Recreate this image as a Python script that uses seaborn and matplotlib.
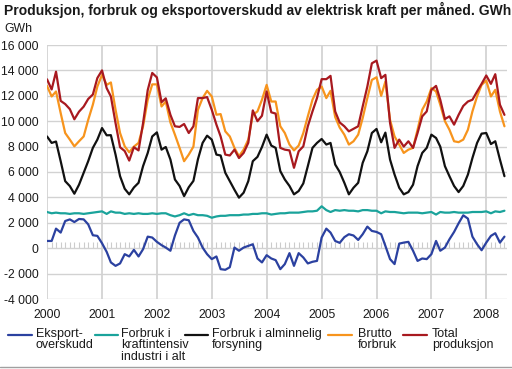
import numpy as np
import pandas as pd
import matplotlib
matplotlib.use("Agg")
import matplotlib.pyplot as plt
import matplotlib.dates as mdates
from matplotlib.lines import Line2D
import seaborn as sns

# ---------------- data (GWh per month, Jan 2000 - May 2008) ----------------
months = pd.date_range("2000-01-01", periods=101, freq="MS")

total_produksjon = [
    13300, 12500, 13900, 11600, 11350, 10950, 10150, 10750, 11150, 11750, 12100, 13400,
    14000, 12600, 11950, 9850, 7950, 7650, 6900, 7950, 7700, 9850, 12450, 13800,
    13450, 11500, 11800, 10500, 9600, 9550, 9780, 9070, 9600, 11820, 11820, 11900,
    10900, 9730, 8800, 7370, 7300, 7760, 7100, 7500, 8300, 10850, 10000, 10430,
    12340, 10700, 10600, 7900, 7760, 7700, 6330, 7630, 8020, 9600, 10770, 11820,
    13310, 13310, 13570, 10770, 9900, 9600, 9200, 9400, 9600, 11160, 12730, 14560,
    14770, 13390, 13650, 9860, 7900, 8550, 8000, 8420, 7900, 9070, 10380, 10770,
    12470, 12780, 11690, 10170, 10380, 9730, 10500, 11200, 11550, 11690, 12340, 12940,
    13600, 12940, 13700, 11300, 10500,
]
brutto_forbruk = [
    12780, 11950, 12340, 10640, 9070, 8550, 8020, 8420, 8800, 10100, 11300, 12730,
    13650, 12860, 13050, 10900, 9070, 8020, 7550, 8000, 8290, 9600, 11690, 12900,
    12900, 11160, 11550, 9900, 8940, 7900, 6850, 7370, 8000, 10900, 11820, 12390,
    11950, 10510, 10560, 9200, 8800, 7900, 7240, 7760, 8550, 10500, 10770, 11690,
    12860, 11550, 11550, 9600, 9070, 8160, 7700, 8080, 9070, 10380, 11690, 12470,
    12730, 11820, 12390, 10330, 9500, 8940, 8160, 8420, 8940, 10250, 11820, 13250,
    13460, 12000, 13120, 10100, 8800, 8160, 7500, 7760, 7900, 9330, 10900, 11550,
    12600, 12340, 11300, 10000, 9330, 8420, 8350, 8550, 9330, 10770, 11950, 12860,
    13200, 11950, 12470, 10770, 9600,
]
alminnelig_forsyning = [
    8800, 8290, 8400, 6850, 5280, 4890, 4290, 5000, 5940, 6850, 7900, 8550,
    9460, 8890, 8900, 7370, 5670, 4680, 4240, 4780, 5150, 6460, 7500, 8800,
    9120, 7760, 7970, 6980, 5410, 4900, 4100, 4800, 5300, 7000, 8290, 8860,
    8550, 7370, 7300, 5940, 5280, 4600, 3980, 4370, 5280, 6850, 7190, 7970,
    8940, 8080, 7900, 6070, 5410, 4900, 4240, 4500, 5100, 6460, 7900, 8290,
    8600, 8160, 8290, 6590, 6000, 5150, 4240, 4760, 5150, 6720, 7630, 9070,
    9390, 8340, 9100, 6980, 5800, 4760, 4240, 4420, 5000, 6460, 7500, 7900,
    8940, 8680, 8000, 6460, 5670, 4900, 4420, 4900, 5800, 7100, 8290, 9020,
    9070, 8200, 8420, 6980, 5670,
]
kraftintensiv = [
    2850, 2750, 2800, 2750, 2750, 2700, 2750, 2750, 2700, 2750, 2800, 2850,
    2900, 2700, 2900, 2800, 2800, 2700, 2750, 2700, 2750, 2700, 2700, 2750,
    2700, 2750, 2750, 2600, 2500, 2600, 2750, 2600, 2700, 2600, 2600, 2550,
    2400, 2500, 2550, 2550, 2600, 2600, 2600, 2650, 2650, 2700, 2700, 2750,
    2750, 2650, 2700, 2750, 2750, 2800, 2800, 2800, 2850, 2900, 2900, 2950,
    3300, 3000, 2850, 3000, 2950, 3000, 2950, 2950, 2900, 3000, 3000, 2950,
    2950, 2750, 2900, 2850, 2850, 2800, 2750, 2800, 2800, 2800, 2750, 2800,
    2850, 2650, 2850, 2800, 2800, 2850, 2800, 2800, 2800, 2850, 2850, 2850,
    2900, 2750, 2900, 2850, 2950,
]
eksportoverskudd = [
    570, 570, 1540, 1230, 2140, 2270, 2060, 2300, 2270, 1880, 1020, 970,
    390, -290, -1120, -1390, -1200, -470, -650, -130, -650, -80, 910, 840,
    500, 240, 50, -200, 1000, 2000, 2270, 2200, 1360, 840, 50, -470,
    -860, -650, -1650, -1700, -1500, 50, -200, 50, 180, 310, -810, -1120,
    -550, -810, -940, -1650, -1250, -390, -1390, -390, -730, -1200, -1070, -1000,
    840, 1540, 1230, 570, 420, 870, 1100, 1000, 650, 1100, 1700, 1360,
    1280, 1100, 180, -860, -1250, 360, 440, 500, -200, -1000, -810, -860,
    -470, 570, -200, 50, 700, 1280, 1960, 2590, 2330, 910, 310, -160,
    440, 970, 1180, 440, 910,
]

series_names = ["Eksport-\noverskudd", "Forbruk i\nkraftintensiv\nindustri i alt",
                "Forbruk i alminnelig\nforsyning", "Brutto\nforbruk", "Total\nproduksjon"]
series_values = [eksportoverskudd, kraftintensiv, alminnelig_forsyning,
                 brutto_forbruk, total_produksjon]
series_colors = ["#2b41a0", "#1aa39b", "#111111", "#f7941d", "#a8191f"]

y_ticks = [-4000, -2000, 0, 2000, 4000, 6000, 8000, 10000, 12000, 14000, 16000]
y_labels = ["-4 000", "-2 000", "0", "2 000", "4 000", "6 000", "8 000",
            "10 000", "12 000", "14 000", "16 000"]
year_labels = ["2000", "2001", "2002", "2003", "2004", "2005", "2006", "2007", "2008"]

title = "Produksjon, forbruk og eksportoverskudd av elektrisk kraft per måned. GWh"

# ---------------- build long table ----------------
frames = []
for name, vals in zip(series_names, series_values):
    frames.append(pd.DataFrame({"dato": months, "GWh": vals, "serie": name}))
df = pd.concat(frames, ignore_index=True)

sns.set_theme(style="white")
plt.rcParams["font.family"] = ["Liberation Sans", "DejaVu Sans"]

W, H = 512, 369
fig = plt.figure(figsize=(W / 100, H / 100), dpi=100)
ax = fig.add_axes([47 / W, 1 - 299 / H, (507 - 47) / W, (299 - 45) / H])

sns.lineplot(data=df, x="dato", y="GWh", hue="serie", hue_order=series_names,
             palette=dict(zip(series_names, series_colors)), linewidth=1.6,
             legend=False, ax=ax)

ax.set_ylim(-4000, 16000)
ax.set_xlim(pd.Timestamp("2000-01-01"), pd.Timestamp("2008-05-18"))
ax.set_yticks(y_ticks)
ax.set_yticklabels(y_labels)
year_pos = [pd.Timestamp(f"{y}-01-01") for y in year_labels]
ax.set_xticks(year_pos)
ax.set_xticklabels(year_labels)
ax.set_xlabel("")
ax.set_ylabel("")
for s in ax.spines.values():
    s.set_visible(False)
ax.grid(axis="y", color="#d2d2d2", linewidth=1.0)
ax.grid(axis="x", color="#d6d6d6", linewidth=1.4)
ax.set_axisbelow(True)
ax.tick_params(axis="both", length=0, labelsize=8.8, colors="#1a1a1a")
ax.tick_params(axis="y", pad=6)
ax.tick_params(axis="x", pad=7)

# monthly ticks on zero line
sec = ax.secondary_xaxis(0.2)
sec.set_xticks(list(months))
sec.xaxis.set_major_formatter(plt.NullFormatter())
sec.tick_params(direction="in", length=4.5, width=0.8, color="#cccccc")
sec.spines["bottom"].set_visible(False)

# title and unit
fig.text(4 / W, 1 - 10 / H, title, fontsize=10, fontweight="bold",
         ha="left", va="center", color="#1a1a1a")
fig.text(4 / W, 1 - 29 / H, "GWh", fontsize=8.8, ha="left", va="center", color="#1a1a1a")

# legend (manual)
leg_handles = [(8, 32, 36), (95, 118, 121), (185, 208, 212), (328, 352, 358), (403, 427, 432)]
for (x0, x1, xt), name, col in zip(leg_handles, series_names, series_colors):
    fig.add_artist(Line2D([x0 / W, x1 / W], [1 - 335 / H, 1 - 335 / H],
                          color=col, linewidth=1.6, transform=fig.transFigure))
    fig.text(xt / W, 1 - 328 / H, name, fontsize=9.0, ha="left", va="top",
             linespacing=0.92, color="#1a1a1a")

fig.add_artist(Line2D([0, 1], [1 - 367 / H, 1 - 367 / H], color="#a0a0a0",
                      linewidth=1.0, transform=fig.transFigure))

fig.savefig("out.png", dpi=100)
